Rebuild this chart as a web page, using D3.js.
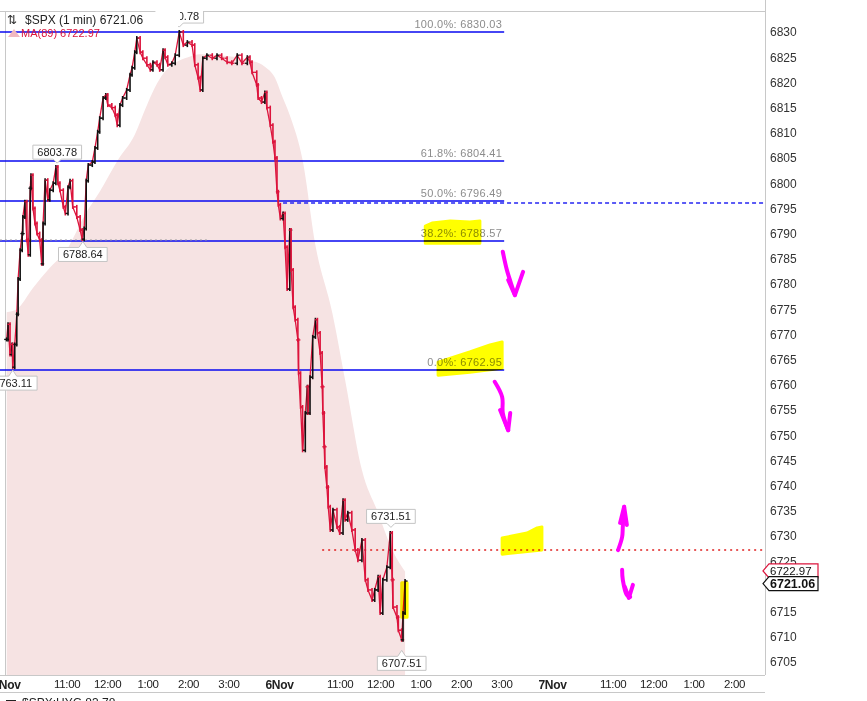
<!DOCTYPE html>
<html>
<head>
<meta charset="utf-8">
<script src="https://cdn.jsdelivr.net/npm/d3@7"></script>
<style>
    body { margin: 0; background: #fff; overflow: hidden; }
    svg { display: block; }
    text { font-family: "Liberation Sans", Arial, sans-serif; }
</style>
</head>
<body>
<div id="chart"></div>
<script>
// minutes since 5Nov 9:30 (a session is 405 one-minute bars, 9:30 - 4:15)
const barMinutes = [1, 3, 6, 9, 10, 13, 16, 18, 21, 24, 25, 28, 31, 33, 36, 37, 40, 43, 46, 50,
    53, 55, 58, 62, 65, 70, 74, 77, 80, 85, 88, 92, 95, 99, 105, 110, 113, 116, 119, 122,
    128, 132, 136, 139, 144, 148, 151, 157, 162, 165, 169, 173, 179, 184, 187, 191, 194, 199, 203, 209,
    214, 218, 224, 228, 233, 236, 240, 246, 251, 257, 263, 269, 276, 280, 285, 288, 292, 298, 306, 313,
    320, 328, 335, 343, 350, 358, 362, 365, 372, 374, 379, 384, 387, 392, 396, 399, 402, 404, 407, 411,
    414, 417, 421, 423, 426, 429, 433, 434, 437, 440, 444, 447, 448, 451, 455, 459, 462, 466, 469, 470,
    472, 473, 476, 478, 481, 485, 491, 495, 500, 503, 507, 513, 518, 522, 528, 533, 537, 543, 547, 552,
    555, 559, 565, 570, 573, 574, 580, 582, 587, 589, 592];
const barCloses = [6769, 6772, 6766, 6768, 6763.5, 6768, 6774, 6781, 6786.7, 6790, 6793.3, 6796.3, 6788.7, 6785.8, 6799, 6801.6, 6795, 6792, 6790, 6788.7,
    6784, 6792, 6800.6, 6796.7, 6798.6, 6800, 6803.2, 6800, 6798.6, 6795.3, 6794, 6799.2, 6800.5, 6795.3, 6793.3, 6790.7, 6788.9, 6791, 6800.5, 6803.6,
    6804.2, 6807, 6810.2, 6812.9, 6816.9, 6817.5, 6815.5, 6815, 6813.5, 6811.5, 6815.5, 6816.9, 6818.5, 6821.5, 6822.9, 6826, 6828.8, 6826, 6824.8, 6823.5,
    6822.5, 6824, 6823.5, 6822.5, 6826.4, 6825, 6823.5, 6823.8, 6825.4, 6830, 6827.4, 6828, 6827.4, 6823.5, 6820.9, 6818.5, 6824.8, 6825.4, 6824.8, 6825.4,
    6824.8, 6824, 6823.8, 6825.4, 6823.8, 6825, 6824, 6822, 6819.5, 6816.9, 6816.1, 6818, 6815, 6811.5, 6808.2, 6805, 6798.3, 6795.7, 6793, 6794,
    6787.3, 6779, 6790.7, 6782.8, 6775.4, 6772.9, 6768.9, 6762.3, 6755.6, 6747, 6754.4, 6759.6, 6754.4, 6761.5, 6769.5, 6772.9, 6770.3, 6766.3, 6759.6, 6754.4,
    6747.7, 6743.7, 6739.7, 6735.8, 6731.2, 6735.2, 6731.8, 6730.6, 6737.1, 6733.2, 6734.6, 6731.2, 6727.2, 6725.2, 6729.2, 6721.3, 6719.3, 6717.3, 6719.3, 6721.9,
    6714.7, 6721.3, 6723.8, 6730.6, 6721.3, 6715.9, 6713.9, 6711.3, 6709.4, 6714.7, 6721.06];

const maMinutes = [1, 16, 40, 65, 90, 117, 139, 166, 191, 206, 217, 231, 251, 270, 288, 315, 365, 384, 399, 409,
    421, 440, 459, 484, 503, 528, 552, 573, 592];
const maValues = [6774.4, 6775.0, 6779.2, 6783.2, 6786.8, 6793.7, 6798.3, 6804.6, 6809.6, 6814.5, 6817.9, 6821.3, 6823.9, 6825.0, 6825.6, 6825.4, 6824.3, 6823.1, 6820.9, 6817.5,
    6813.5, 6804.6, 6787.7, 6774.3, 6761.0, 6743.1, 6734.6, 6727.2, 6722.97];

const fibPercents = ['100.0%', '61.8%', '50.0%', '38.2%', '0.0%'];
const fibLevels = [6830.03, 6804.41, 6796.49, 6788.57, 6762.95];

const extremeMinutes = [257, 76, 114, 10, 571, 587];
const extremeValues = [6830.78, 6803.78, 6788.64, 6763.11, 6731.51, 6707.51];
const extremeKinds = ['high', 'high', 'low', 'low', 'high', 'low'];

const priceTicks = [6705, 6710, 6715, 6720, 6725, 6730, 6735, 6740, 6745, 6750, 6755, 6760, 6765,
    6770, 6775, 6780, 6785, 6790, 6795, 6800, 6805, 6810, 6815, 6820, 6825, 6830];
const timeTickMinutes = [0, 90, 150, 210, 270, 330, 405, 495, 555, 615, 675, 735, 810, 900, 960, 1020, 1080];
const timeTickLabels = ['5Nov', '11:00', '12:00', '1:00', '2:00', '3:00', '6Nov', '11:00', '12:00', '1:00', '2:00', '3:00',
    '7Nov', '11:00', '12:00', '1:00', '2:00'];

const lastClose = 6721.06;
const lastMA = 6722.97;
const openLevel = 6796.0;    // dashed blue
const alertLevel = 6727.2;   // red dotted

// hand drawn marks on the screenshot, in [minute, price]
const highlightShapes = [
    [[622, 6791.5], [632, 6792.1], [659, 6792.5], [688, 6792.3], [703, 6792.5], [703, 6788.1], [622, 6788.1]],
    [[641, 6764.5], [688, 6766.5], [718, 6767.9], [736, 6768.5], [736, 6763.3], [688, 6762.5], [641, 6761.9]],
    [[736, 6729.6], [773, 6730.6], [788, 6731.6], [795, 6731.8], [795, 6727.2], [736, 6726.4]],
    [[587, 6720.7], [595, 6720.7], [595, 6713.9], [587, 6713.9]]
];
const arrowShafts = [
    [[737, 6786.4], [743, 6782.8], [751, 6779.4], [755, 6777.8]],
    [[725, 6760.6], [736, 6757.6], [737, 6754.4], [745, 6751.0]],
    [[908, 6727.2], [914, 6729.8], [915, 6731.8], [917, 6735.8]],
    [[914, 6723.3], [915, 6721.3], [921, 6718.3], [926, 6717.9]]
];
const arrowHeads = [
    [[745, 6780.8], [755, 6777.8], [767, 6782.4]],
    [[733, 6755.0], [745, 6751.0], [748, 6754.4]],
    [[911, 6732.6], [917, 6735.8], [921, 6732.2]],
    [[918, 6719.9], [924, 6717.7], [930, 6720.3]]
];

class IntradayChart {
    constructor() {
        this.plot = { left: 5, right: 765, top: 11, bottom: 675 };
        this.svg = d3.select('#chart').append('svg')
            .attr('width', 867)
            .attr('height', 701);

        this.x = d3.scaleLinear().domain([0, 1000]).range([6, 680.1]);
        this.y = d3.scaleLinear().domain([6705, 6830]).range([662, 32]);

        this.svg.append('clipPath').attr('id', 'plotClip')
            .append('rect')
            .attr('x', 0).attr('y', this.plot.top)
            .attr('width', this.plot.right).attr('height', this.plot.bottom - this.plot.top);

        this.frame();
        this.g = this.svg.append('g').attr('clip-path', 'url(#plotClip)');
        this.drawMovingAverage();
        this.drawLevels();
        this.drawBars();
        this.drawHighlights();
        this.drawExtremes();
        this.drawLegend();
        this.drawAxes();
        this.drawPriceTags();
        this.drawArrows();
    }

    frame() {
        const p = this.plot;
        const s = this.svg;
        s.append('line').attr('x1', 0).attr('x2', p.right).attr('y1', p.top + 0.5).attr('y2', p.top + 0.5).attr('stroke', '#c8c8c8');
        s.append('line').attr('x1', p.left + 0.5).attr('x2', p.left + 0.5).attr('y1', p.top).attr('y2', p.bottom).attr('stroke', '#c8c8c8');
        s.append('line').attr('x1', 0).attr('x2', p.right).attr('y1', p.bottom + 0.5).attr('y2', p.bottom + 0.5).attr('stroke', '#c8c8c8');
        s.append('line').attr('x1', p.right + 0.5).attr('x2', p.right + 0.5).attr('y1', 0).attr('y2', p.bottom).attr('stroke', '#c8c8c8');
        // lower pane header
        s.append('line').attr('x1', 0).attr('x2', p.right).attr('y1', 692.5).attr('y2', 692.5).attr('stroke', '#c8c8c8');
        s.append('rect').attr('x', 6).attr('y', 700).attr('width', 10).attr('height', 2).attr('fill', '#222');
        s.append('text').attr('x', 22).attr('y', 707)
            .attr('font-family', 'DejaVu Sans').attr('font-size', 12).attr('fill', '#222')
            .text('$SPX:HYG 83.78');
    }

    drawMovingAverage() {
        const area = d3.area()
            .x((d, i) => this.x(maMinutes[i]))
            .y0(this.plot.bottom)
            .y1(d => this.y(d))
            .curve(d3.curveMonotoneX);
        this.g.append('path')
            .datum(maValues)
            .attr('fill', '#f6e3e3')
            .attr('d', area);
    }

    hline(level, from, to) {
        const yy = Math.round(this.y(level));
        return this.g.append('line')
            .attr('x1', this.x(from)).attr('x2', this.x(to))
            .attr('y1', yy).attr('y2', yy);
    }

    drawLevels() {
        fibLevels.forEach(level => {
            this.hline(level, -9, 739).attr('stroke', '#0808f0').attr('stroke-width', 1.6);
        });
        this.hline(extremeValues[2], -9, 298)
            .attr('stroke', '#999').attr('stroke-dasharray', '2,3');
        this.hline(openLevel, 411, 1150)
            .attr('stroke', '#2626f2').attr('stroke-width', 1.4).attr('stroke-dasharray', '4,3');
        this.hline(alertLevel, 469, 1150)
            .attr('stroke', '#e02020').attr('stroke-width', 1.3).attr('stroke-dasharray', '2,4');

        this.g.selectAll('.fib-label')
            .data(fibLevels)
            .join('text')
            .attr('class', 'fib-label')
            .attr('x', this.x(736))
            .attr('y', d => this.y(d) - 4)
            .attr('text-anchor', 'end')
            .attr('font-family', 'DejaVu Sans')
            .attr('font-size', 11)
            .attr('letter-spacing', 0.3)
            .attr('fill', '#8c8c8c')
            .text((d, i) => `${fibPercents[i]}: ${d.toFixed(2)}`);
    }

    drawBars() {
        const bars = barCloses.map((c, i) => ({
            m: barMinutes[i],
            open: i > 0 ? barCloses[i - 1] : c,
            close: c
        }));

        const line = d3.line()
            .x(d => this.x(d.m))
            .y(d => this.y(d.close));
        this.g.append('path')
            .datum(bars)
            .attr('fill', 'none')
            .attr('stroke', '#dc143c')
            .attr('stroke-width', 1.3)
            .attr('d', line);

        const colour = d => d.close >= d.open ? '#111' : '#dc143c';
        const bar = this.g.selectAll('.bar')
            .data(bars)
            .join('g')
            .attr('class', 'bar');

        bar.append('line')
            .attr('x1', d => this.x(d.m)).attr('x2', d => this.x(d.m))
            .attr('y1', d => Math.min(this.y(d.open), this.y(d.close)) - 2)
            .attr('y2', d => Math.max(this.y(d.open), this.y(d.close)) + 2)
            .attr('stroke', colour)
            .attr('stroke-width', 1.6);
        bar.append('line')
            .attr('x1', d => this.x(d.m) - 2.5).attr('x2', d => this.x(d.m))
            .attr('y1', d => this.y(d.open)).attr('y2', d => this.y(d.open))
            .attr('stroke', colour).attr('stroke-width', 1.3);
        bar.append('line')
            .attr('x1', d => this.x(d.m)).attr('x2', d => this.x(d.m) + 2.5)
            .attr('y1', d => this.y(d.close)).attr('y2', d => this.y(d.close))
            .attr('stroke', colour).attr('stroke-width', 1.3);
    }

    drawHighlights() {
        const shape = d3.line()
            .x(d => this.x(d[0]))
            .y(d => this.y(d[1]))
            .curve(d3.curveLinearClosed);
        this.svg.selectAll('.marker-pen')
            .data(highlightShapes)
            .join('path')
            .attr('class', 'marker-pen')
            .attr('d', shape)
            .attr('fill', '#ffff00')
            .attr('stroke', '#ffff00')
            .attr('stroke-width', 3)
            .attr('stroke-linejoin', 'round')
            .style('mix-blend-mode', 'multiply');
    }

    drawExtremes() {
        extremeValues.forEach((v, i) => {
            const cx = this.x(extremeMinutes[i]);
            const cy = this.y(v);
            const label = v.toFixed(2);
            const w = label.length * 6.1 + 6;
            const h = 14;
            const high = extremeKinds[i] === 'high';
            const edge = high ? cy - 5 : cy + 7;      // box edge facing the bar
            const tip = high ? cy - 1 : cy + 1;
            const top = high ? edge - h : edge;
            const x0 = cx - w / 2;

            const path = d3.path();
            if (high) {
                path.moveTo(x0, top);
                path.lineTo(x0 + w, top);
                path.lineTo(x0 + w, edge);
                path.lineTo(cx + 4, edge);
                path.lineTo(cx, tip);
                path.lineTo(cx - 4, edge);
                path.lineTo(x0, edge);
            } else {
                path.moveTo(x0, edge);
                path.lineTo(cx - 4, edge);
                path.lineTo(cx, tip);
                path.lineTo(cx + 4, edge);
                path.lineTo(x0 + w, edge);
                path.lineTo(x0 + w, edge + h);
                path.lineTo(x0, edge + h);
            }
            path.closePath();

            this.g.append('path')
                .attr('d', path.toString())
                .attr('fill', '#fff')
                .attr('stroke', '#c4c4c4');
            this.g.append('text')
                .attr('x', cx)
                .attr('y', top + h / 2 + 4)
                .attr('text-anchor', 'middle')
                .attr('font-size', 11)
                .attr('fill', '#222')
                .text(label);
        });
    }

    drawLegend() {
        const s = this.svg;
        s.append('rect').attr('x', 6).attr('y', 12).attr('width', 174).attr('height', 14).attr('fill', '#fff');
        s.append('text').attr('x', 7).attr('y', 24)
            .attr('font-family', 'DejaVu Sans').attr('font-size', 12).attr('fill', '#222')
            .text('⇅');
        s.append('text').attr('x', 25).attr('y', 24)
            .attr('font-family', 'DejaVu Sans').attr('font-size', 12).attr('fill', '#222')
            .text(`$SPX (1 min) ${lastClose.toFixed(2)}`);
        s.append('path')
            .attr('d', 'M8,37 L14,29 L20,37 Z')
            .attr('fill', '#f0b8c0');
        s.append('text').attr('x', 21).attr('y', 37)
            .attr('font-family', 'DejaVu Sans').attr('font-size', 11).attr('fill', '#dc143c')
            .text(`MA(89) ${lastMA.toFixed(2)}`);
    }

    drawAxes() {
        const yAxis = d3.axisRight(this.y)
            .tickValues(priceTicks)
            .tickSize(0)
            .tickPadding(5)
            .tickFormat(d3.format('d'));
        const ya = this.svg.append('g')
            .attr('transform', `translate(${this.plot.right},0)`)
            .call(yAxis);
        ya.select('.domain').remove();
        ya.selectAll('text')
            .attr('font-family', '"Liberation Sans", Arial, sans-serif')
            .attr('font-size', 12)
            .attr('fill', '#333');

        const xAxis = d3.axisBottom(this.x)
            .tickValues(timeTickMinutes)
            .tickSize(0)
            .tickPadding(4)
            .tickFormat((d, i) => timeTickLabels[i]);
        const xa = this.svg.append('g')
            .attr('transform', `translate(0,${this.plot.bottom + 1})`)
            .call(xAxis);
        xa.select('.domain').remove();
        xa.selectAll('text')
            .attr('font-family', '"Liberation Sans", Arial, sans-serif')
            .attr('font-size', (d, i) => timeTickLabels[i].includes('Nov') ? 12 : 11.5)
            .attr('font-weight', (d, i) => timeTickLabels[i].includes('Nov') ? 'bold' : 'normal')
            .attr('letter-spacing', -0.3)
            .attr('fill', '#222');
    }

    drawPriceTags() {
        const tags = [
            { value: lastMA, cy: this.y(lastMA) - 0.5, stroke: '#dc143c', weight: 'normal', size: 11.5 },
            { value: lastClose, cy: this.y(lastClose) + 2.5, stroke: '#111', weight: 'bold', size: 12.5 }
        ];
        tags.forEach(t => {
            const x0 = this.plot.right - 2;
            this.svg.append('path')
                .attr('d', `M${x0},${t.cy} L${x0 + 6},${t.cy - 7} L818,${t.cy - 7} L818,${t.cy + 7} L${x0 + 6},${t.cy + 7} Z`)
                .attr('fill', '#fff')
                .attr('stroke', t.stroke)
                .attr('stroke-width', 1.2);
            this.svg.append('text')
                .attr('x', x0 + 7)
                .attr('y', t.cy + 4.5)
                .attr('font-size', t.size)
                .attr('font-weight', t.weight)
                .attr('fill', '#111')
                .text(t.value.toFixed(2));
        });
    }

    drawArrows() {
        const pen = d3.line()
            .x(d => this.x(d[0]))
            .y(d => this.y(d[1]))
            .curve(d3.curveCatmullRom);
        const style = sel => sel
            .attr('fill', 'none')
            .attr('stroke', '#ff00ff')
            .attr('stroke-width', 4)
            .attr('stroke-linecap', 'round')
            .attr('stroke-linejoin', 'round');

        this.svg.selectAll('.arrow-shaft').data(arrowShafts).join('path')
            .attr('class', 'arrow-shaft').attr('d', pen).call(style);
        this.svg.selectAll('.arrow-head').data(arrowHeads).join('path')
            .attr('class', 'arrow-head').attr('d', d3.line().x(d => this.x(d[0])).y(d => this.y(d[1]))).call(style);
    }
}

window.addEventListener('load', () => {
    new IntradayChart();
});
</script>
</body>
</html>
